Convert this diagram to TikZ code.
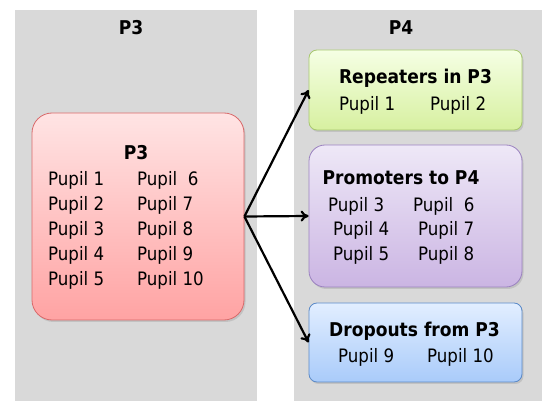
\documentclass[tikz,border=0pt]{standalone}
\usepackage{fontspec}
\setmainfont{DejaVu Sans Condensed}
\usepackage{tikz}
\usetikzlibrary{shadows,arrows.meta}

\definecolor{panelgray}{HTML}{D9D9D9}
\definecolor{redtop}{HTML}{FFE4E4}
\definecolor{redbot}{HTML}{FFA3A3}
\definecolor{redline}{HTML}{D9696A}
\definecolor{greentop}{HTML}{F5FFE4}
\definecolor{greenbot}{HTML}{D7F0A0}
\definecolor{greenline}{HTML}{A8C870}
\definecolor{purptop}{HTML}{EEE8F7}
\definecolor{purpbot}{HTML}{CBB5E3}
\definecolor{purpline}{HTML}{9B82C0}
\definecolor{bluetop}{HTML}{E2EEFF}
\definecolor{bluebot}{HTML}{A9CBFA}
\definecolor{blueline}{HTML}{5B8AC8}

\tikzset{
  box/.style={draw, line width=0.8pt, inner sep=0pt,
    drop shadow={opacity=0.25, shadow xshift=1.5pt, shadow yshift=-2pt}},
  lbl/.style={anchor=base west, inner sep=0pt, font=\fontsize{18.5}{20}\selectfont},
  ttl/.style={anchor=base, inner sep=0pt, font=\fontsize{19}{21}\selectfont\bfseries},
  flow/.style={-{To[length=8pt,width=11pt]}, line width=2.2pt},
}

\begin{document}
\begin{tikzpicture}[x=1pt,y=-1pt]
\useasboundingbox (0,0) rectangle (542,401);
% grade columns
\fill[panelgray] (15,10) rectangle (257,401);
\fill[panelgray] (294,10) rectangle (542,401);
\node[ttl] (hp3) at (131,35) {P3};
\node[ttl] (hp4) at (401,35) {P4};

% boxes
\node[box, draw=redline, top color=redtop, bottom color=redbot, rounded corners=20pt,
  minimum width=212pt, minimum height=207pt] (p3box) at (138,216.5) {};
\node[box, draw=greenline, top color=greentop, bottom color=greenbot, rounded corners=8pt,
  minimum width=213pt, minimum height=80pt] (rep) at (415.5,90) {};
\node[box, draw=purpline, top color=purptop, bottom color=purpbot, rounded corners=16pt,
  minimum width=213pt, minimum height=142pt] (prom) at (415.5,216) {};
\node[box, draw=blueline, top color=bluetop, bottom color=bluebot, rounded corners=8pt,
  minimum width=213pt, minimum height=79pt] (drop) at (415.5,342.5) {};

% P3 pupils
\node[ttl] (t3) at (136,160) {P3};
\foreach \i in {1,...,5}
  \node[lbl] (a\i) at (48,{161+25*\i}) {Pupil \i};
\node[lbl] (b1) at (137,186) {Pupil~ 6};
\foreach \n/\i in {7/2,8/3,9/4,10/5}
  \node[lbl] (b\i) at (137,{161+25*\i}) {Pupil \n};

% repeaters
\node[ttl] (trep) at (415.5,84) {Repeaters in P3};
\node[lbl] (rp1) at (339,111) {Pupil 1};
\node[lbl] (rp2) at (430,111) {Pupil 2};

% promoters
\node[ttl] (tprom) at (401,185) {Promoters to P4};
\node[lbl] (pr3) at (328,212) {Pupil 3};
\node[lbl] (pr4) at (333,236) {Pupil 4};
\node[lbl] (pr5) at (333,261) {Pupil 5};
\node[lbl] (pr6) at (413,212) {Pupil~ 6};
\node[lbl] (pr7) at (418,236) {Pupil 7};
\node[lbl] (pr8) at (418,261) {Pupil 8};

% dropouts
\node[ttl] (tdrop) at (414.5,337) {Dropouts from P3};
\node[lbl] (dr9) at (338,363) {Pupil 9};
\node[lbl] (dr10) at (427,363) {Pupil 10};

% flows
\draw[flow] (p3box.east) -- (rep.west);
\draw[flow] (p3box.east) -- (prom.west);
\draw[flow] (p3box.east) -- (drop.west);
\end{tikzpicture}
\end{document}
